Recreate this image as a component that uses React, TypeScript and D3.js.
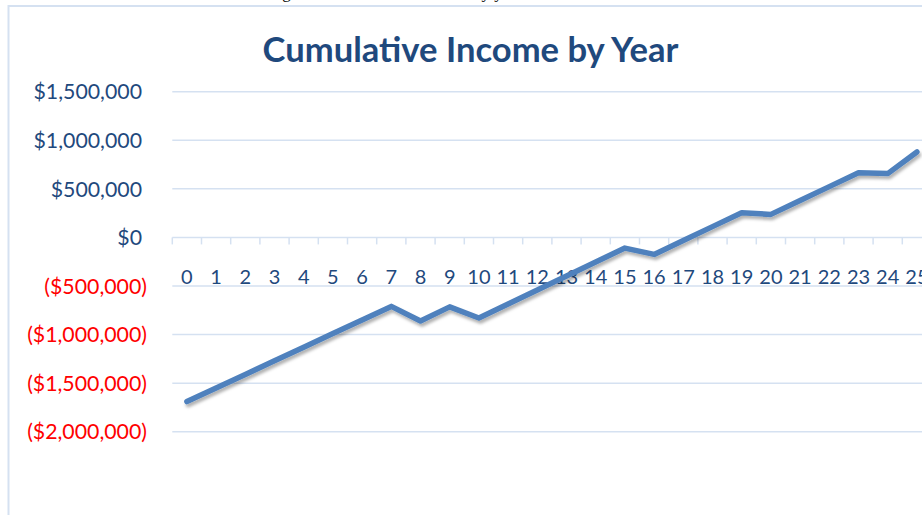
import React from "react";
import * as d3 from "d3";

const years: string[] = Array.from({ length: 26 }, (_, i) => String(i));
const cumulativeIncome: number[] = [
  -1690000, -1550000, -1410000, -1270000, -1130000, -990000, -850000, -710000,
  -860000, -715000, -830000, -686000, -542000, -398000, -254000, -110000,
  -175000, -32000, 111000, 254000, 237000, 380000, 523000, 666000, 657000, 880000,
];
const yTickValues: number[] = [1500000, 1000000, 500000, 0, -500000, -1000000, -1500000, -2000000];
const chartTitle = "Cumulative Income by Year";
const captionText = "Figure 4: Cumulative Income by year of Income";

const W = 922;
const H = 515;
const FONT = "Lato, 'Open Sans', sans-serif";
const BLUE_TEXT = "#1F497D";
const GRID = "#D5E1F1";

export default function App() {
  const x = d3.scaleBand<string>().domain(years).range([172.3, 931.5]).paddingInner(0).paddingOuter(0);
  const y = d3.scaleLinear().domain([-2000000, 1500000]).range([431.7, 91.7]);
  const fmt = d3.format("$,.0f");
  const label = (v: number) => (v < 0 ? `(${fmt(-v)})` : fmt(v));

  const line = d3
    .line<number>()
    .x((_, i) => (x(years[i]) as number) + x.bandwidth() / 2)
    .y((d) => y(d))
    .curve(d3.curveLinear);

  const tickBoundaries = years.map((yr) => x(yr) as number).concat([(x(years[years.length - 1]) as number) + x.bandwidth()]);

  return (
    <svg
      width={W}
      height={H}
      style={{ position: "absolute", left: 0, top: 0, background: "#fff" }}
    >
      <defs>
        <filter id="shadow" x="-10%" y="-10%" width="120%" height="130%">
          <feDropShadow dx="1.5" dy="3" stdDeviation="1.8" floodColor="#000" floodOpacity="0.3" />
        </filter>
      </defs>
      <rect x={0} y={0} width={W} height={H} fill="#fff" />
      {/* caption cut off at top */}
      <text x={268} y={-2} fontFamily="'Liberation Serif', 'Times New Roman', serif" fontSize={17} fill="#000">
        {captionText}
      </text>
      {/* chart border */}
      <rect x={8.5} y={6} width={W + 20} height={H + 20} fill="none" stroke={GRID} strokeWidth={2} />
      {/* title */}
      <text
        x={470.5}
        y={61.5}
        textAnchor="middle"
        fontFamily={FONT}
        fontWeight={700}
        fontSize={34.6}
        fill={BLUE_TEXT}
      >
        {chartTitle}
      </text>
      {/* gridlines */}
      {yTickValues.map((v) => (
        <line key={"g" + v} x1={172.3} x2={W + 20} y1={y(v)} y2={y(v)} stroke={GRID} strokeWidth={1.5} />
      ))}
      {/* tick marks on the category axis */}
      {tickBoundaries.map((tx, i) => (
        <line key={"t" + i} x1={tx} x2={tx} y1={y(0)} y2={y(0) + 7} stroke={GRID} strokeWidth={1.5} />
      ))}
      {/* y labels */}
      {yTickValues.map((v) => (
        <text
          key={"yl" + v}
          x={v < 0 ? 147 : 142}
          y={y(v)}
          dy="0.36em"
          textAnchor="end"
          fontFamily={FONT}
          fontSize={21.3}
          fill={v < 0 ? "#FF0000" : BLUE_TEXT}
        >
          {label(v)}
        </text>
      ))}
      {/* x labels */}
      {years.map((yr) => (
        <text
          key={"xl" + yr}
          x={(x(yr) as number) + x.bandwidth() / 2}
          y={276.7}
          dy="0.36em"
          textAnchor="middle"
          fontFamily={FONT}
          fontSize={20}
          fill={BLUE_TEXT}
        >
          {yr}
        </text>
      ))}
      {/* data line */}
      <path
        d={line(cumulativeIncome) || ""}
        fill="none"
        stroke="#4F81BD"
        strokeWidth={5.5}
        strokeLinecap="round"
        strokeLinejoin="round"
        filter="url(#shadow)"
      />
    </svg>
  );
}
